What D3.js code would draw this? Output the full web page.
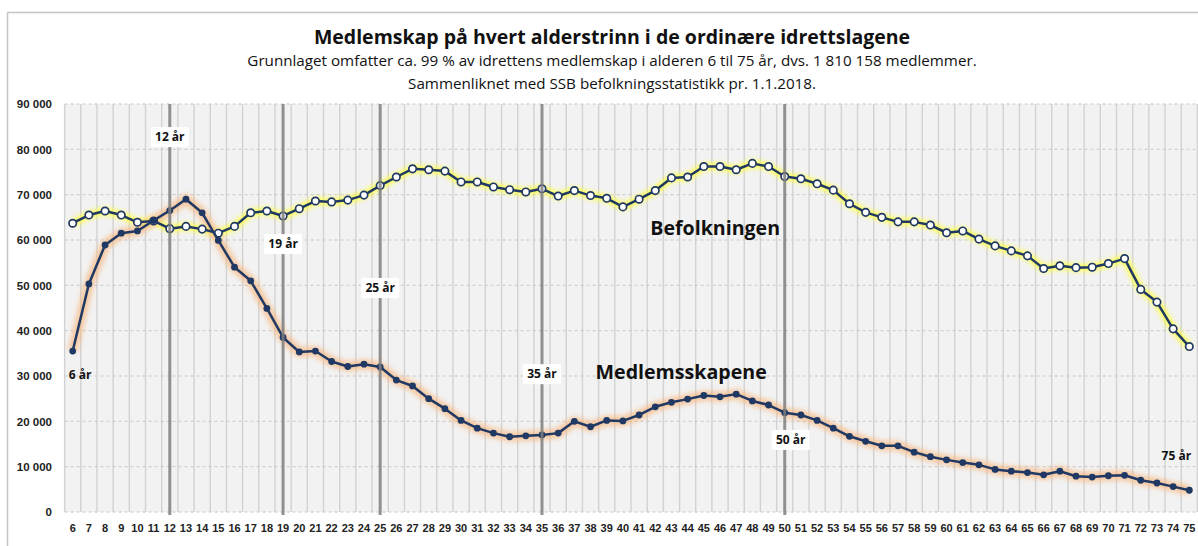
<!DOCTYPE html>
<html><head><meta charset="utf-8">
<script src="https://cdn.jsdelivr.net/npm/d3@7"></script>
<style>
html,body{margin:0;padding:0;background:#fff;}
svg{display:block;}
</style></head>
<body>
<svg id="chart" width="1198" height="546"></svg>
<script>
const ages = [6,7,8,9,10,11,12,13,14,15,16,17,18,19,20,21,22,23,24,25,26,27,28,29,30,31,32,33,34,35,36,37,38,39,40,41,42,43,44,45,46,47,48,49,50,51,52,53,54,55,56,57,58,59,60,61,62,63,64,65,66,67,68,69,70,71,72,73,74,75];
const members = [35500,50300,58900,61500,62000,64300,66500,69000,66000,59900,
  54000,51000,44900,38500,35300,35500,33200,32100,32600,32000,
  29100,27800,25000,22800,20200,18500,17400,16600,16800,17000,
  17400,20000,18800,20200,20100,21400,23200,24200,24900,25700,
  25400,26000,24500,23600,21900,21400,20200,18500,16700,15600,
  14600,14600,13200,12200,11500,10900,10400,9400,9000,8700,
  8200,9000,7900,7700,8000,8100,7000,6400,5600,4800];
const population = [63700,65500,66400,65500,63900,64200,62500,63000,62400,61500,
  63000,66000,66400,65300,66900,68600,68400,68800,69900,72000,
  73900,75700,75500,75200,72800,72800,71700,71100,70600,71300,
  69700,70900,69800,69200,67300,69000,70900,73700,73900,76200,
  76200,75500,76900,76200,74000,73500,72400,71000,68000,66100,
  65000,64000,64000,63300,61600,62000,60200,58700,57600,56500,
  53700,54300,53900,54000,54800,55900,49100,46300,40400,36500];
const yTicks = [0,10000,20000,30000,40000,50000,60000,70000,80000,90000];
const markerAges = [12,19,25,35,50];
const ageLabels = [
  {age:6,  text:"6 år",  y:30200, dx:7.5, box:false},
  {age:12, text:"12 år", y:82700, dx:0, box:true},
  {age:19, text:"19 år", y:59100, dx:0, box:true},
  {age:25, text:"25 år", y:49400, dx:0, box:true},
  {age:35, text:"35 år", y:30400, dx:0, box:true},
  {age:50, text:"50 år", y:15900, dx:6, box:true},
  {age:75, text:"75 år", y:12300, dx:-13, box:false}
];
const seriesLabels = [
  {text:"Befolkningen", age:45.7, y:62600},
  {text:"Medlemsskapene", age:43.6, y:30900}
];
const title = "Medlemskap på hvert alderstrinn i de ordinære idrettslagene";
const subtitles = ["Grunnlaget omfatter ca. 99 % av idrettens medlemskap i alderen 6 til 75 år, dvs. 1 810 158 medlemmer.",
  "Sammenliknet med SSB befolkningsstatistikk pr. 1.1.2018."];

const svg = d3.select("#chart");
const L = 64.6, R = 1197.4, T = 104, B = 512;
const x = d3.scaleBand().domain(ages).range([L, R]).padding(0);
const cx = a => x(a) + x.bandwidth()/2;
const xAt = a => { const i = Math.floor(a); return cx(i) + (a - i) * x.bandwidth(); };
const y = d3.scaleLinear().domain([0, 90000]).range([B, T]);
const navy = "#1f3864";

const defs = svg.append("defs");
const f = defs.append("filter").attr("id","glow").attr("x","-5%").attr("y","-20%").attr("width","110%").attr("height","140%");
f.append("feGaussianBlur").attr("stdDeviation", 2.4);

// outer border (top and left visible)
svg.append("line").attr("x1",7.5).attr("x2",1198).attr("y1",12.5).attr("y2",12.5).attr("stroke","#c4c4c4").attr("stroke-width",1.5);
svg.append("line").attr("x1",7.5).attr("x2",7.5).attr("y1",12.5).attr("y2",546).attr("stroke","#c4c4c4").attr("stroke-width",1.5);

// plot background
svg.append("rect").attr("x",L).attr("y",T).attr("width",R-L).attr("height",B-T).attr("fill","#f2f2f2");

// vertical grid lines at category boundaries
const bounds = ages.map(a => x(a)).concat([x(ages[ages.length-1]) + x.bandwidth()]);
svg.append("g").selectAll("line").data(bounds).join("line")
  .attr("x1", d=>d).attr("x2", d=>d).attr("y1", T).attr("y2", B)
  .attr("stroke","#d2d2d2").attr("stroke-width",1.4);

// horizontal dashed gridlines
svg.append("g").selectAll("line").data(yTicks).join("line")
  .attr("x1", L).attr("x2", R).attr("y1", d=>y(d)).attr("y2", d=>y(d))
  .attr("stroke","#c8c8c8").attr("stroke-width",1).attr("stroke-dasharray","3,3");

// y axis
const yAxis = d3.axisLeft(y).tickValues(yTicks).tickSize(0).tickPadding(0)
  .tickFormat(d => d3.format(",")(d).replace(/,/g, " "));
const gy = svg.append("g").attr("transform", `translate(52,0)`).call(yAxis);
gy.select(".domain").remove();
gy.selectAll("text").attr("font-family","Liberation Sans, Arial, sans-serif").attr("font-weight","bold")
  .attr("font-size","11.5px").attr("fill","#222");

// x axis
const xAxis = d3.axisBottom(x).tickSize(0).tickPadding(0);
const gx = svg.append("g").attr("transform", `translate(0,${B+12})`).call(xAxis);
gx.select(".domain").remove();
gx.selectAll("text").attr("font-family","Liberation Sans, Arial, sans-serif").attr("font-weight","bold")
  .attr("font-size","11px").attr("fill","#222");

const line = d3.line().x((d,i)=>cx(ages[i])).y(d=>y(d));

// glows
svg.append("path").datum(population).attr("d", line).attr("fill","none")
  .attr("stroke","#ffff40").attr("stroke-width",7).attr("opacity",0.9).attr("filter","url(#glow)");
svg.append("path").datum(members).attr("d", line).attr("fill","none")
  .attr("stroke","#f7b77f").attr("stroke-width",10).attr("opacity",0.7).attr("filter","url(#glow)");

// population
svg.append("path").datum(population).attr("d", line).attr("fill","none")
  .attr("stroke",navy).attr("stroke-width",2.5).attr("stroke-linejoin","round");
svg.append("g").selectAll("circle").data(population).join("circle")
  .attr("cx",(d,i)=>cx(ages[i])).attr("cy",d=>y(d)).attr("r",3.7)
  .attr("fill","#fff").attr("stroke",navy).attr("stroke-width",1.7);

// members
svg.append("path").datum(members).attr("d", line).attr("fill","none")
  .attr("stroke",navy).attr("stroke-width",2.5).attr("stroke-linejoin","round");
svg.append("g").selectAll("circle").data(members).join("circle")
  .attr("cx",(d,i)=>cx(ages[i])).attr("cy",d=>y(d)).attr("r",3.4)
  .attr("fill",navy);

// thick marker lines (drawn over series)
svg.append("g").selectAll("line").data(markerAges).join("line")
  .attr("x1", d=>cx(d)).attr("x2", d=>cx(d)).attr("y1", T).attr("y2", B+3)
  .attr("stroke","#7f7f7f").attr("stroke-width",3).attr("opacity",0.85);

// age labels
const al = svg.append("g").selectAll("g").data(ageLabels).join("g")
  .attr("transform", d=>`translate(${cx(d.age)+d.dx},${y(d.y)})`);
al.filter(d=>d.box).append("rect").attr("x",-19).attr("y",-10).attr("width",38).attr("height",20).attr("fill","#fff");
al.append("text").attr("text-anchor","middle").attr("dy","0.35em")
  .attr("font-family","Open Sans, sans-serif").attr("font-weight","bold").attr("font-size","12px")
  .attr("fill","#111").text(d=>d.text);

// series labels
svg.append("g").selectAll("text").data(seriesLabels).join("text")
  .attr("x", d=>xAt(d.age))
  .attr("y", d=>y(d.y)).attr("dy","0.35em").attr("text-anchor","middle")
  .attr("font-family","Open Sans, sans-serif").attr("font-weight","bold").attr("font-size","19.6px")
  .attr("fill","#111").text(d=>d.text);

// titles
svg.append("text").attr("x",612).attr("y",44).attr("text-anchor","middle")
  .attr("font-family","Open Sans, sans-serif").attr("font-weight","bold").attr("font-size","19.5px")
  .attr("fill","#111").text(title);
svg.selectAll(".sub").data(subtitles).join("text").attr("class","sub")
  .attr("x",612).attr("y",(d,i)=>66+i*23).attr("text-anchor","middle")
  .attr("font-family","Open Sans, sans-serif").attr("font-size","15.2px")
  .attr("fill","#111").text(d=>d);
</script>
</body></html>
